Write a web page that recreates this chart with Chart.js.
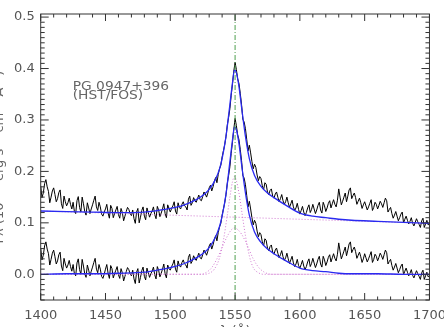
<!DOCTYPE html>
<html>
<head>
<meta charset="utf-8">
<script src="https://cdn.jsdelivr.net/npm/chart.js@4.4.0/dist/chart.umd.min.js"></script>
<style>
html,body{margin:0;padding:0;background:#fff;overflow:hidden;width:444px;height:327px;}
#wrap{position:absolute;left:-16px;top:0;width:470px;height:345px;}
</style>
</head>
<body>
<div id="wrap"><canvas id="c" width="470" height="345"></canvas></div>
<script>
// wavelength grid of the spectrum (A)
const wave=[
1400,1401,1402,1403,1404,1405,1406,1407,1408,1409,
1410,1411,1412,1413,1414,1415,1416,1417,1418,1419,
1420,1421,1422,1423,1424,1425,1426,1427,1428,1429,
1430,1431,1432,1433,1434,1435,1436,1437,1438,1439,
1440,1441,1442,1443,1444,1445,1446,1447,1448,1449,
1450,1451,1452,1453,1454,1455,1456,1457,1458,1459,
1460,1461,1462,1463,1464,1465,1466,1467,1468,1469,
1470,1471,1472,1473,1474,1475,1476,1477,1478,1479,
1480,1481,1482,1483,1484,1485,1486,1487,1488,1489,
1490,1491,1492,1493,1494,1495,1496,1497,1498,1499,
1500,1501,1502,1503,1504,1505,1506,1507,1508,1509,
1510,1511,1512,1513,1514,1515,1516,1517,1518,1519,
1520,1521,1522,1523,1524,1525,1526,1527,1528,1529,
1530,1531,1532,1533,1534,1535,1536,1537,1538,1539,
1540,1541,1542,1543,1544,1545,1546,1547,1548,1549,
1550,1551,1552,1553,1554,1555,1556,1557,1558,1559,
1560,1561,1562,1563,1564,1565,1566,1567,1568,1569,
1570,1571,1572,1573,1574,1575,1576,1577,1578,1579,
1580,1581,1582,1583,1584,1585,1586,1587,1588,1589,
1590,1591,1592,1593,1594,1595,1596,1597,1598,1599,
1600,1601,1602,1603,1604,1605,1606,1607,1608,1609,
1610,1611,1612,1613,1614,1615,1616,1617,1618,1619,
1620,1621,1622,1623,1624,1625,1626,1627,1628,1629,
1630,1631,1632,1633,1634,1635,1636,1637,1638,1639,
1640,1641,1642,1643,1644,1645,1646,1647,1648,1649,
1650,1651,1652,1653,1654,1655,1656,1657,1658,1659,
1660,1661,1662,1663,1664,1665,1666,1667,1668,1669,
1670,1671,1672,1673,1674,1675,1676,1677,1678,1679,
1680,1681,1682,1683,1684,1685,1686,1687,1688,1689,
1690,1691,1692,1693,1694,1695,1696,1697,1698,1699,
1700];
// observed flux (upper trace)
const flux=[
.172,.149,.158,.176,.184,.170,.161,.139,.150,.162,
.168,.155,.141,.147,.159,.164,.137,.128,.152,.141,
.133,.139,.148,.136,.127,.140,.122,.118,.143,.151,
.130,.121,.150,.137,.122,.115,.139,.129,.118,.127,
.135,.144,.152,.131,.124,.140,.131,.117,.113,.121,
.127,.136,.119,.109,.134,.128,.110,.118,.125,.132,
.116,.109,.128,.120,.104,.113,.122,.130,.126,.118,
.114,.125,.108,.099,.121,.128,.100,.111,.124,.131,
.113,.106,.129,.120,.111,.118,.123,.131,.116,.108,
.132,.125,.112,.119,.127,.137,.118,.110,.135,.128,
.121,.128,.133,.141,.123,.117,.139,.130,.127,.136,
.141,.133,.131,.125,.146,.152,.134,.139,.149,.143,
.140,.147,.154,.145,.143,.151,.160,.156,.150,.158,
.168,.173,.162,.170,.181,.188,.178,.194,.205,.212,
.228,.240,.252,.268,.290,.305,.322,.348,.370,.395,
.412,.398,.380,.371,.352,.330,.301,.296,.283,.262,
.240,.251,.236,.219,.205,.214,.208,.193,.182,.190,
.186,.172,.164,.178,.175,.160,.155,.163,.166,.152,
.148,.156,.160,.150,.141,.147,.155,.143,.136,.141,
.150,.139,.130,.137,.144,.131,.124,.129,.138,.126,
.117,.124,.132,.121,.114,.120,.129,.135,.120,.126,
.136,.127,.118,.125,.134,.140,.125,.119,.140,.133,
.122,.129,.138,.143,.129,.137,.145,.136,.131,.144,
.166,.150,.135,.142,.150,.158,.141,.152,.164,.168,
.147,.153,.158,.149,.136,.142,.148,.139,.128,.135,
.141,.133,.125,.131,.138,.145,.124,.130,.140,.136,
.127,.134,.142,.137,.130,.139,.148,.143,.121,.126,
.130,.118,.109,.115,.122,.113,.104,.110,.117,.121,
.100,.107,.113,.105,.098,.103,.110,.099,.094,.101,
.108,.102,.097,.091,.104,.109,.091,.098,.105,.096,
.098];
// continuum-subtracted flux (lower trace)
const lineFlux=[
.051,.028,.037,.055,.063,.049,.040,.018,.029,.041,
.047,.034,.020,.026,.038,.043,.016,.007,.031,.020,
.012,.018,.027,.015,.006,.019,.001,-.003,.022,.030,
.009,.000,.029,.016,.001,-.006,.018,.008,-.003,.006,
.014,.023,.031,.010,.003,.019,.010,-.004,-.008,.000,
.010,.019,.002,-.008,.017,.011,-.007,.001,.008,.015,
-.001,-.008,.011,.003,-.013,-.004,.005,.013,.009,.001,
-.003,.008,-.009,-.018,.004,.011,-.017,-.006,.007,.014,
-.004,-.011,.012,.003,-.006,.001,.006,.014,-.001,-.009,
.015,.008,-.005,.002,.010,.020,.001,-.007,.018,.011,
.008,.015,.020,.028,.010,.004,.026,.017,.014,.023,
.028,.020,.018,.012,.033,.039,.021,.026,.036,.030,
.027,.034,.041,.032,.030,.038,.047,.043,.037,.045,
.055,.060,.049,.057,.068,.075,.065,.081,.092,.099,
.115,.127,.139,.155,.177,.192,.209,.235,.257,.282,
.303,.289,.271,.262,.243,.221,.192,.187,.174,.153,
.131,.142,.127,.110,.096,.105,.099,.084,.073,.081,
.077,.063,.055,.069,.066,.051,.046,.054,.057,.043,
.039,.047,.051,.041,.032,.038,.046,.034,.027,.032,
.041,.030,.021,.028,.035,.022,.015,.020,.029,.017,
.012,.019,.027,.016,.009,.015,.024,.030,.015,.021,
.031,.022,.013,.020,.029,.035,.020,.014,.035,.028,
.017,.024,.033,.038,.024,.032,.040,.031,.026,.039,
.061,.045,.030,.037,.045,.053,.036,.047,.059,.063,
.042,.048,.053,.044,.031,.037,.043,.034,.023,.030,
.040,.032,.024,.030,.037,.044,.023,.029,.039,.035,
.026,.033,.041,.036,.029,.038,.047,.042,.020,.025,
.029,.017,.008,.014,.021,.012,.003,.009,.016,.020,
-.001,.006,.012,.004,-.003,.002,.009,-.002,-.007,.000,
.007,.001,-.004,-.010,.003,.008,-.010,-.003,.004,-.005,
-.003];
// model fit
const fitWave=[1400,1420,1440,1460,1480,1490,1500,1510,1520,1525,1530,1535,1538,1540,1543,1546,1548,1549.5,1551,1553,1555,1558,1561,1565,1570,1575,1580,1590,1600,1610,1620,1630,1640,1660,1680,1700];
const fitTotal=[.123,.122,.121,.120,.121,.124,.128,.134,.145,.153,.165,.185,.205,.225,.268,.330,.372,.397,.392,.365,.325,.268,.225,.192,.171,.158,.149,.133,.119,.113,.110,.107,.105,.103,.101,.099];
const fitLine=[.000,.001,.001,.002,.004,.008,.013,.020,.032,.040,.052,.073,.093,.113,.156,.219,.261,.286,.281,.254,.214,.158,.115,.082,.062,.049,.040,.025,.012,.007,.005,.002,.001,.001,.000,.000];
// continuum
const contWave=[1400,1700];
const contFlux=[.123,.099];
// line components
const narrowWave=[1400,1526,1530,1534,1538,1541,1544,1546,1548,1549.5,1551,1553,1555,1558,1561,1564,1568,1572,1700];
const narrowFlux=[0,0,.002,.010,.032,.066,.115,.150,.180,.190,.182,.158,.125,.075,.036,.013,.003,0,0];
const broadWave=[1400,1524,1528,1532,1536,1540,1544,1547,1549.5,1552,1555,1558,1561,1564,1568,1572,1578,1700];
const broadFlux=[0,0,.004,.013,.030,.052,.074,.086,.090,.087,.078,.064,.047,.030,.014,.005,0,0];
// CIV rest wavelength marker
const civWave=1550;
// axes
const xTicks=[1400,1450,1500,1550,1600,1650,1700];
const yTicks=[0,0.1,0.2,0.3,0.4,0.5];
const xMin=1400,xMax=1700,yMin=-0.05,yMax=0.506;

const pts=(xs,ys)=>xs.map((v,i)=>({x:v,y:ys[i]}));

const frame={
id:'frame',
afterDatasetsDraw(chart){
const {ctx,chartArea:a,scales:{x,y}}=chart;
ctx.save();
ctx.strokeStyle='#333';
ctx.lineWidth=1;
ctx.strokeRect(a.left,a.top,a.right-a.left,a.bottom-a.top);
ctx.beginPath();
for(let v=xMin;v<=xMax;v+=10){
const px=x.getPixelForValue(v);
const l=(v%50===0)?7:3.5;
ctx.moveTo(px,a.bottom);ctx.lineTo(px,a.bottom-l);
ctx.moveTo(px,a.top);ctx.lineTo(px,a.top+l);
}
for(let k=-5;k<=50;k++){
const py=y.getPixelForValue(k/100);
const l=(k%10===0)?8:4;
ctx.moveTo(a.left,py);ctx.lineTo(a.left+l,py);
ctx.moveTo(a.right,py);ctx.lineTo(a.right-l,py);
}
ctx.stroke();
// object label
ctx.fillStyle='#666';
ctx.font='12px "DejaVu Sans"';
ctx.textBaseline='alphabetic';
ctx.translate(a.left+32,a.top+76);
ctx.scale(1.15,1);
ctx.fillText('PG 0947+396',0,0);
ctx.fillText('(HST/FOS)',0,9);
ctx.restore();
}
};

const tickFont={family:'DejaVu Sans',size:13};

new Chart(document.getElementById('c'),{
type:'line',
data:{datasets:[
{data:[{x:civWave,y:yMin},{x:civWave,y:yMax}],borderColor:'#4f9f4f',borderWidth:1,borderDash:[5,2,1,2]},
{data:pts(fitWave,fitTotal),borderColor:'#2a2af0',borderWidth:1.3,cubicInterpolationMode:'monotone'},
{data:pts(fitWave,fitLine),borderColor:'#2a2af0',borderWidth:1.3,cubicInterpolationMode:'monotone'},
{data:pts(contWave,contFlux),borderColor:'#d07ad0',borderWidth:1,borderDash:[1,2]},
{data:pts(narrowWave,narrowFlux),borderColor:'#d07ad0',borderWidth:1,borderDash:[1,2],cubicInterpolationMode:'monotone'},
{data:pts(broadWave,broadFlux),borderColor:'#d07ad0',borderWidth:1,borderDash:[1,2],cubicInterpolationMode:'monotone'},
{data:pts(wave,flux),borderColor:'#000',borderWidth:1},
{data:pts(wave,lineFlux),borderColor:'#000',borderWidth:1}
]},
options:{
responsive:false,animation:false,devicePixelRatio:1,
layout:{padding:{left:0,right:23.3,top:14,bottom:0}},
elements:{point:{radius:0},line:{tension:0}},
plugins:{legend:{display:false},tooltip:{enabled:false}},
scales:{
x:{type:'linear',min:xMin,max:xMax,
grid:{display:false,drawTicks:false},border:{display:false},
afterBuildTicks:s=>{s.ticks=xTicks.map(v=>({value:v}));},
afterFit:s=>{s.height=45;},
ticks:{autoSkip:false,maxRotation:0,padding:8,color:'#555',font:tickFont,callback:v=>String(v)},
title:{display:true,text:'λ (Å)',color:'#555',font:tickFont,padding:{top:0,bottom:6}}},
y:{type:'linear',min:yMin,max:yMax,
grid:{display:false,drawTicks:false},border:{display:false},
afterBuildTicks:s=>{s.ticks=yTicks.map(v=>({value:v}));},
afterFit:s=>{s.width=56.7;},
ticks:{padding:6,color:'#555',font:tickFont,callback:v=>Number(v).toFixed(1)},
title:{display:true,text:'Fλ (10⁻¹⁴ erg s⁻¹ cm⁻² Å⁻¹)',color:'#666',font:tickFont,padding:{top:8,bottom:0}}}
}
},
plugins:[frame]
});
</script>
</body>
</html>
